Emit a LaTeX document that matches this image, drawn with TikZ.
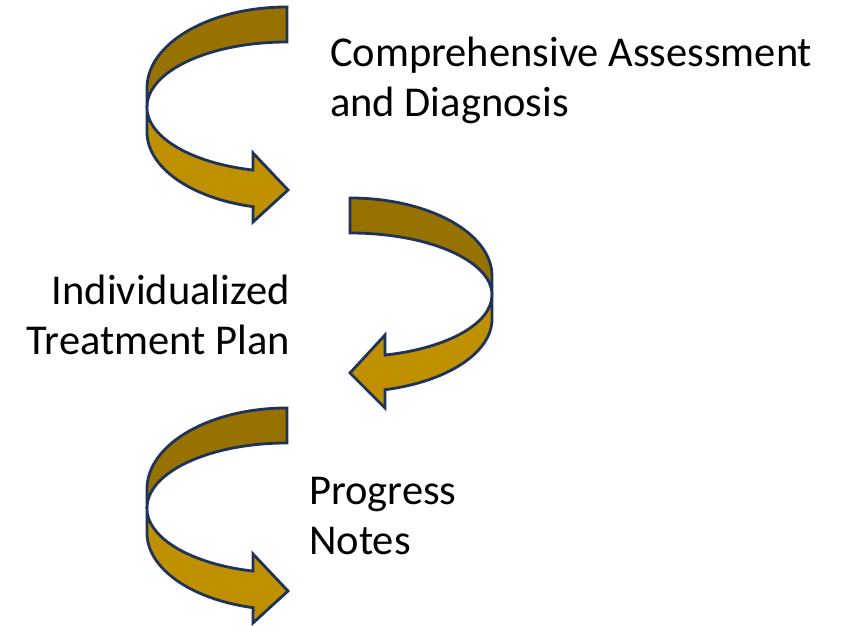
\documentclass[tikz,border=0pt]{standalone}
\usepackage{fontspec}
\setmainfont{Carlito}
\definecolor{backgold}{RGB}{151,114,0}
\definecolor{frontgold}{RGB}{191,144,0}
\definecolor{edgenavy}{RGB}{31,51,89}
\tikzset{
  backband/.style={fill=backgold,draw=edgenavy,line width=2.8pt},
  frontband/.style={fill=frontgold,draw=edgenavy,line width=2.8pt},
  lbl/.style={inner sep=0pt,font=\fontsize{42.5}{50}\selectfont,text=black}
}
\begin{document}
\begin{tikzpicture}[x=1pt,y=1pt]
\useasboundingbox (0,0) rectangle (841,626);
% Arrow 1
\begin{scope}
\draw[backband] (287,619) arc[start angle=90,end angle=180,x radius=140,y radius=81]
  -- (147,519) arc[start angle=180,end angle=90,x radius=140,y radius=65] -- cycle;
\draw[frontband] (147,519) -- (147,494)
  arc[start angle=180,end angle=256,x radius=140,y radius=77]
  -- (253,404) -- (288,436) -- (253,473) -- (253,455.9)
  arc[start angle=256,end angle=180,x radius=140,y radius=65] -- cycle;
\end{scope}
% Arrow 2
\begin{scope}
\draw[backband] (350,428) arc[start angle=90,end angle=0,x radius=142,y radius=78]
  -- (492,331) arc[start angle=0,end angle=90,x radius=142,y radius=62] -- cycle;
\draw[frontband] (492,331) -- (492,307)
  arc[start angle=0,end angle=-75.7,x radius=142,y radius=73]
  -- (385,218) -- (350,253) -- (385,291) -- (385,270.9)
  arc[start angle=-75.7,end angle=0,x radius=142,y radius=62] -- cycle;
\end{scope}
% Arrow 3
\begin{scope}[yshift=-401pt]
\draw[backband] (287,619) arc[start angle=90,end angle=180,x radius=140,y radius=81]
  -- (147,519) arc[start angle=180,end angle=90,x radius=140,y radius=65] -- cycle;
\draw[frontband] (147,519) -- (147,494)
  arc[start angle=180,end angle=256,x radius=140,y radius=77]
  -- (253,404) -- (288,436) -- (253,473) -- (253,455.9)
  arc[start angle=256,end angle=180,x radius=140,y radius=65] -- cycle;
\end{scope}
% Labels
\node[lbl,anchor=base west] (a1) at (330,559) {Comprehensive Assessment};
\node[lbl,anchor=base west] (a2) at (330,509) {and Diagnosis};
\node[lbl,anchor=base east] (b1) at (290,321) {Individualized};
\node[lbl,anchor=base east] (b2) at (290,271) {Treatment Plan};
\node[lbl,anchor=base west] (c1) at (309,121) {Progress};
\node[lbl,anchor=base west] (c2) at (309,71) {Notes};
\end{tikzpicture}
\end{document}
